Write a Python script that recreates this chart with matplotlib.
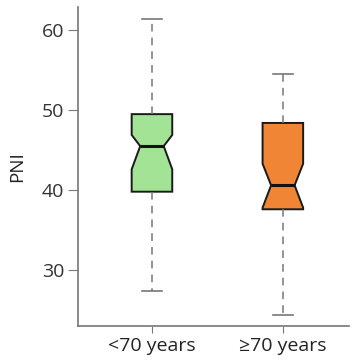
import matplotlib
matplotlib.use("Agg")
import matplotlib.pyplot as plt
import numpy as np

categories = ["<70 years", "≥70 years"]
q1 = [39.8, 37.6]
med = [45.5, 40.6]
q3 = [49.5, 48.4]
whislo = [27.4, 24.4]
whishi = [61.4, 54.5]
cilo = [42.6, 37.8]
cihi = [46.9, 43.3]
colors = ["#a2e395", "#ef8535"]
yticks = [30, 40, 50, 60]

plt.rcParams['font.family'] = ['Open Sans', 'DejaVu Sans']

fig = plt.figure(figsize=(3.52, 3.63), dpi=100)
ax = fig.add_axes([0.2216, 0.1019, 0.991 - 0.2216, 0.9807 - 0.1019])

stats = []
for i, c in enumerate(categories):
    stats.append(dict(label=c, q1=q1[i], med=med[i], q3=q3[i],
                      whislo=whislo[i], whishi=whishi[i],
                      cilo=cilo[i], cihi=cihi[i], fliers=[]))

width = 0.31
bp = ax.bxp(stats, positions=range(len(categories)), widths=width,
            shownotches=True, patch_artist=True, showfliers=False,
            boxprops=dict(edgecolor='#1a1a1a', linewidth=1.4),
            medianprops=dict(color='#111111', linewidth=2.2),
            whiskerprops=dict(color='#777777', linewidth=1.1, linestyle=(0, (5, 4))),
            capprops=dict(color='#777777', linewidth=1.2))
for i, (patch, col) in enumerate(zip(bp['boxes'], colors)):
    patch.set_facecolor(col)
    verts = patch.get_path().vertices
    inner = np.isclose(np.abs(verts[:, 0] - i), width / 4)
    verts[inner, 0] = i + np.sign(verts[inner, 0] - i) * width * 0.29
for i, m in enumerate(bp['medians']):
    m.set_xdata([i - width * 0.29, i + width * 0.29])
for cap in bp['caps']:
    x0, x1 = cap.get_xdata()
    mid = (x0 + x1) / 2
    cap.set_xdata([mid - 0.075, mid + 0.075])

ax.set_xlim(-0.565, 1.504)
ax.set_ylim(23.0, 62.9)
ax.set_yticks(yticks)
ax.set_xticks(range(len(categories)))
ax.set_xticklabels(categories)
ax.set_ylabel("PNI", fontsize=13.5, color='#222222', labelpad=11)

for s in ['top', 'right']:
    ax.spines[s].set_visible(False)
for s in ['left', 'bottom']:
    ax.spines[s].set_color('#777777')
    ax.spines[s].set_linewidth(1.2)
ax.tick_params(axis='y', length=7, color='#777777', labelsize=14, labelcolor='#333333', pad=3)
ax.tick_params(axis='x', length=5, color='#777777', labelsize=14, labelcolor='#222222', pad=3)

fig.savefig("out.png", dpi=100)
